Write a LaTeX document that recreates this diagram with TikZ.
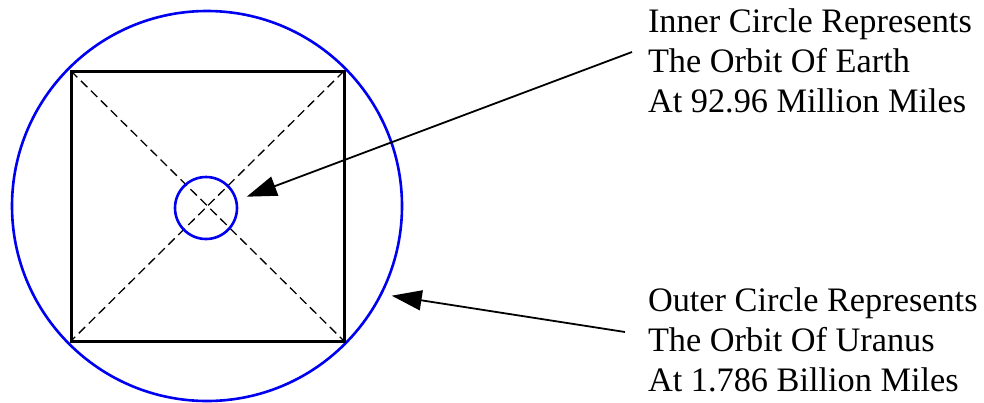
\documentclass[tikz,border=0pt]{standalone}
\usepackage{fontspec}
\setmainfont{Liberation Serif}
\usetikzlibrary{arrows.meta}
\definecolor{orbitblue}{RGB}{0,0,240}
\begin{document}
\begin{tikzpicture}[x=1pt,y=-1pt,
  orbit/.style={circle,draw=orbitblue,line width=2.6pt,inner sep=0pt,outer sep=0pt},
  frame/.style={rectangle,draw=black,line width=3pt,inner sep=0pt,outer sep=0pt},
  diag/.style={black,line width=1.3pt,dash pattern=on 9pt off 5pt},
  pointer/.style={black,line width=1.8pt,-{Triangle[length=30pt,width=20pt]}},
  label/.style={anchor=base west,align=left,inner sep=0pt,outer sep=0pt,
    font=\fontsize{34.3}{40}\selectfont}]
\useasboundingbox (0,0) rectangle (984,402);
\node[orbit,minimum size=390pt] (outer) at (207,206) {};
\node[frame,minimum width=273pt,minimum height=270pt] (sq) at (207.5,206) {};
\draw[diag] (sq.north west) -- (sq.south east);
\draw[diag] (sq.north east) -- (sq.south west);
\node[orbit,minimum size=62pt] (inner) at (206,208) {};
\node[label] (t1) at (648,112) {Inner Circle Represents\\The Orbit Of Earth\\At 92.96 Million Miles};
\node[label] (t2) at (648,391) {Outer Circle Represents\\The Orbit Of Uranus\\At 1.786 Billion Miles};
\coordinate (s1) at (632,52);
\coordinate (e1) at (246.7,196.7);
\coordinate (s2) at (625,332);
\coordinate (e2) at (391.7,295.7);
\draw[pointer] (s1) -- (e1);
\draw[pointer] (s2) -- (e2);
\end{tikzpicture}
\end{document}
